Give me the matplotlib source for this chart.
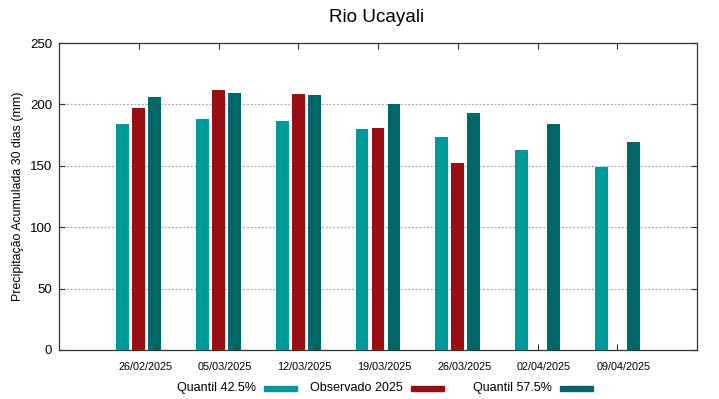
import numpy as np
import matplotlib
matplotlib.use('Agg')
import matplotlib.pyplot as plt
from matplotlib.patches import Rectangle
import matplotlib.transforms as mtransforms

plt.rcParams['font.family'] = ['Liberation Sans', 'DejaVu Sans']

# datos
fechas = ['26/02/2025', '05/03/2025', '12/03/2025', '19/03/2025',
          '26/03/2025', '02/04/2025', '09/04/2025']
q425 = [183.8, 188.1, 186.7, 179.7, 173.2, 162.6, 149.0]
observado = [197.0, 211.5, 208.7, 181.1, 152.5, np.nan, np.nan]
q575 = [205.8, 209.6, 207.6, 200.3, 193.3, 184.3, 169.4]

series = [('Quantil 42.5%', q425, '#009999'),
          ('Observado 2025', observado, '#990e10'),
          ('Quantil 57.5%', q575, '#006766')]

fig = plt.figure(figsize=(7.19, 3.99), dpi=100)
ax = fig.add_axes([59/719, 1 - 350/399, (697 - 59)/719, (350 - 43)/399])

x = np.arange(1, len(fechas) + 1)
ancho = 0.16
for i, (nombre, vals, color) in enumerate(series):
    ax.bar(x + (i - 1) * 0.2, vals, width=ancho, color=color, zorder=3)

ax.set_xlim(0, 8)
ax.set_ylim(0, 250)
ax.set_yticks([0, 50, 100, 150, 200, 250])
ax.set_xticks(x)
ax.set_xticklabels(fechas, fontsize=7.8)
ax.tick_params(axis='y', labelsize=9.5, pad=5)
ax.tick_params(axis='x', pad=9)
ax.tick_params(direction='in', top=True, right=True, length=4, width=0.8, color='#333333')

# etiquetas x algo desplazadas a la derecha
offset = mtransforms.ScaledTranslation(6.5/100, 0, fig.dpi_scale_trans)
for lab in ax.get_xticklabels():
    lab.set_transform(lab.get_transform() + offset)

for v in [50, 100, 150, 200]:
    ax.axhline(v, color='#a8a8a8', linestyle=(0, (1.5, 1.5)), linewidth=0.9, zorder=1)

for s in ax.spines.values():
    s.set_color('#333333')
    s.set_linewidth(0.9)

fig.text(18/719, 1 - 196.5/399, 'Precipitação Acumulada 30 dias (mm)', rotation=90,
         ha='center', va='center', fontsize=8.9)
fig.text(377/719, 1 - 17/399, 'Rio Ucayali', ha='center', va='center', fontsize=13.6)

# leyenda manual estilo gnuplot
fin_texto = [256, 403, 552]
for (nombre, vals, color), xt in zip(series, fin_texto):
    fig.text(xt/719, 1 - 388/399, nombre, ha='right', va='center', fontsize=9)
    fig.patches.append(Rectangle(((xt + 8)/719, 1 - 391/399), 33/719, 5/399,
                                 transform=fig.transFigure, color=color, figure=fig))

fig.savefig('out.png', dpi=100)
